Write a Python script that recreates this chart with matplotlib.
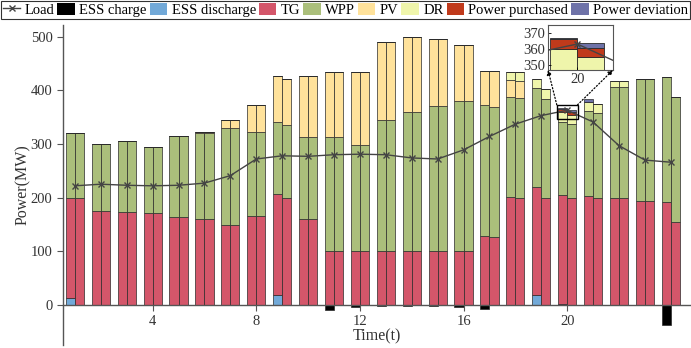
import numpy as np
import matplotlib
matplotlib.use('Agg')
import matplotlib.pyplot as plt
import matplotlib.patches as mpatches
from matplotlib.lines import Line2D
from matplotlib.patches import ConnectionPatch, Rectangle

plt.rcParams['font.family'] = ['Liberation Serif', 'DejaVu Serif']

hours = np.arange(1, 25)
load = [222, 225, 223, 222, 223, 227, 241, 272, 278, 277, 280, 281,
        280, 274, 272, 289, 314, 337, 353, 363, 341, 297, 270, 266]

# first schedule (left half of each hour)
ch_a = [0, 0, 0, 0, 0, 0, 0, 0, 0, 0, -9, -4,
        -2.5, -2.5, -2.5, -4.5, -8.5, 0, 0, 0, 0, 0, 0, -37]
dis_a = [12, 0, 0, 0, 0, 0, 0, 0, 19, 0, 0, 0,
         0, 0, 0, 0, 0, 0, 19, 2, 0, 0, 0, 0]
tg_a = [187, 175, 173, 172, 163, 160, 148, 165, 187, 160, 100, 100,
        100, 100, 100, 100, 128, 201, 200.5, 202, 203, 200, 193, 191]
wpp_a = [121, 125, 132, 123, 151, 160, 182, 158, 135, 153, 213, 198,
         245, 260, 271, 280, 244, 186, 184.5, 137, 159, 207, 228, 234]
pv_a = [0, 0, 0, 0, 0, 2, 15, 49, 85, 114, 122, 136,
        145, 140, 125, 104, 65, 32, 0, 0, 0, 0, 0, 0]
dr_a = [0, 0, 0, 0, 0, 0, 0, 0, 0, 0, 0, 0,
        0, 0, 0, 0, 0, 16, 17, 19, 17, 11, 0, 0]
buy_a = [0, 0, 0, 0, 0, 0, 0, 0, 0, 0, 0, 0,
         0, 0, 0, 0, 0, 0, 0, 6, 0, 0, 0, 0]
dev_a = [0, 0, 0, 0, 0, 0, 0, 0, 0, 0, 0, 0,
         0, 0, 0, 0, 0, 0, 0, 1, 5, 0, 0, 0]

# second schedule (right half of each hour)
ch_b = [0, 0, 0, 0, 0, 0, 0, 0, 0, 0, 0, 0,
        0, 0, 0, 0, 0, 0, 0, 0, 0, 0, 0, 0]
dis_b = [0, 0, 0, 0, 0, 0, 0, 0, 0, 0, 0, 0,
         0, 0, 0, 0, 0, 0, 0, 0, 0, 0, 0, 0]
tg_b = [199, 175, 173, 172, 163, 160, 148, 165, 200, 160, 100, 100,
        100, 100, 100, 100, 126, 199, 200, 199, 200, 200, 193, 154]
wpp_b = [121, 125, 132, 123, 151, 160, 182, 158, 135, 153, 213, 198,
         245, 260, 271, 280, 243, 186, 184, 138, 158, 207, 228, 234]
pv_b = [0, 0, 0, 0, 0, 2, 15, 49, 87, 114, 122, 136,
        145, 140, 125, 104, 67, 32, 0, 0, 0, 0, 0, 0]
dr_b = [0, 0, 0, 0, 0, 0, 0, 0, 0, 0, 0, 0,
        0, 0, 0, 0, 0, 17, 18, 18, 17, 11, 0, 0]
buy_b = [0, 0, 0, 0, 0, 0, 0, 0, 0, 0, 0, 0,
         0, 0, 0, 0, 0, 0, 0, 5.5, 0, 0, 0, 0]
dev_b = [0, 0, 0, 0, 0, 0, 0, 0, 0, 0, 0, 0,
         0, 0, 0, 0, 0, 0, 0, 3, 0, 0, 0, 0]

names = ['ESS charge', 'ESS discharge', 'TG', 'WPP', 'PV', 'DR',
         'Power purchased', 'Power deviation']
colors = ['#000000', '#72a9d8', '#d4566a', '#abbf7b', '#ffe29b',
          '#eff5ab', '#c03a1b', '#6e72a8']
WIDTH = 0.35
EDGE = '#2a2a2a'


def draw_dispatch(ax, lw=0.5):
    for x, sched in ((hours - WIDTH / 2, (ch_a, dis_a, tg_a, wpp_a, pv_a, dr_a, buy_a, dev_a)),
                     (hours + WIDTH / 2, (ch_b, dis_b, tg_b, wpp_b, pv_b, dr_b, buy_b, dev_b))):
        ax.bar(x, sched[0], WIDTH, color=colors[0], edgecolor=EDGE, linewidth=lw)
        bottom = np.zeros(len(hours))
        for vals, c in zip(sched[1:], colors[1:]):
            vals = np.asarray(vals, dtype=float)
            ax.bar(x, vals, WIDTH, bottom=bottom, color=c, edgecolor=EDGE, linewidth=lw)
            bottom += vals
    ax.plot(hours, load, color='#444444', lw=1.0, marker='x', ms=4, mew=1.0, zorder=5)


fig = plt.figure(figsize=(6.91, 3.48), dpi=100)
ax = fig.add_axes([63 / 691, 3 / 348, 628 / 691, 320 / 348])
draw_dispatch(ax)

ax.set_xlim(0.54, 24.78)
ax.set_ylim(-75, 522)
ax.set_xticks([4, 8, 12, 16, 20])
ax.set_yticks([0, 100, 200, 300, 400, 500])
for s in ('top', 'right'):
    ax.spines[s].set_visible(False)
ax.spines['bottom'].set_position(('data', 0))
for s in ('left', 'bottom'):
    ax.spines[s].set_color('#555555')
    ax.spines[s].set_linewidth(1.0)
ax.tick_params(direction='out', length=4, width=0.8, color='#555555',
               labelsize=10.5, labelcolor='#333333')
ax.set_xlabel('Time(t)', fontsize=11.5, color='#333333', labelpad=0)
ax.set_ylabel('Power(MW)', fontsize=11.5, color='#333333', labelpad=0)

# zoomed view around hour 20
ax.add_patch(Rectangle((19.6, 346.5), 0.8, 26.5, fill=False, ec='black', lw=1.0, zorder=6))
axin = fig.add_axes([548 / 691, (348 - 70) / 348, 65 / 691, 45 / 348])
draw_dispatch(axin, lw=0.6)
axin.set_xlim(19.62, 20.46)
axin.set_ylim(346.9, 374.8)
axin.set_xticks([20])
axin.set_yticks([350, 360, 370])
axin.tick_params(direction='in', length=2, width=0.6, labelsize=10.5,
                 labelcolor='#333333', pad=2)
for s in axin.spines.values():
    s.set_color('#555555')
    s.set_linewidth(0.8)

for xa, xb in ((19.6, (0, 0)), (20.4, (1, 0))):
    con = ConnectionPatch(xyA=(xa, 373), coordsA=ax.transData,
                          xyB=xb, coordsB=axin.transAxes,
                          arrowstyle='-|>', linestyle=':', color='black',
                          lw=0.9, mutation_scale=7)
    fig.add_artist(con)

handles = [Line2D([], [], color='#444444', lw=1.0, marker='x', ms=4, mew=1.0)]
handles += [mpatches.Patch(facecolor=c, edgecolor='none') for c in colors]
leg = fig.legend(handles, ['Load'] + names, loc='upper left', ncol=9,
                 bbox_to_anchor=(0.0, 1.0, 1.0, 0.0), mode='expand',
                 fontsize=10.5, frameon=True, fancybox=False, borderaxespad=0.05,
                 handlelength=1.2, handleheight=0.9, handletextpad=0.3,
                 columnspacing=0.4, borderpad=0.15)
leg.get_frame().set_edgecolor('black')
leg.get_frame().set_linewidth(0.8)

fig.savefig('out.png', dpi=100)
